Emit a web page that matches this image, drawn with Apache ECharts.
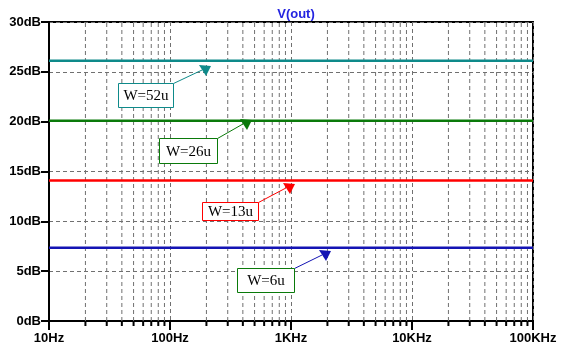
<!DOCTYPE html>
<html><head><meta charset="utf-8">
<script src="https://cdn.jsdelivr.net/npm/echarts@6/dist/echarts.min.js"></script>
<style>html,body{margin:0;padding:0;background:#fff}#c{width:566px;height:352px}</style>
</head><body><div id="c"></div>
<script>
// ---- data ----
const freqPoints = [10, 100, 1000, 10000, 100000];
const xTickLabels = ['10Hz', '100Hz', '1KHz', '10KHz', '100KHz'];
const yTicks = [0, 5, 10, 15, 20, 25, 30];
const seriesNames = ['W=52u', 'W=26u', 'W=13u', 'W=6u'];
const gainW52 = [26.1, 26.1, 26.1, 26.1, 26.1];
const gainW26 = [20.1, 20.1, 20.1, 20.1, 20.1];
const gainW13 = [14.1, 14.1, 14.1, 14.1, 14.1];
const gainW6 = [7.35, 7.35, 7.35, 7.35, 7.35];
const minorMultipliers = [2, 3, 4, 5, 6, 7, 8, 9];
const minorDecades = [10, 100, 1000, 10000];
// annotation anchors in data coords: [boxF1, boxDB1, boxF2, boxDB2, arrowF, arrowDB]
const annotW52 = [37.2, 23.88, 105.9, 21.47, 194.7, 25.28];
const annotW26 = [81.1, 18.36, 244.6, 15.85, 424.6, 19.87];
const annotW13 = [183.9, 11.94, 533.7, 10.13, 962.7, 13.45];
const annotW6 = [357.9, 5.32, 1058, 2.91, 1910, 6.72];

// ---- styles ----
const colors = ['#0e8a8a', '#0a7a0a', '#ff0000', '#1414b4'];
const boxBorders = ['#0e8a8a', '#0a7a0a', '#ff0000', '#0a7a0a'];
const gridColor = '#707070';

const minorFreqs = [];
minorDecades.forEach(d => minorMultipliers.forEach(m => minorFreqs.push(d * m)));
const gains = [gainW52, gainW26, gainW13, gainW6];
const annots = [annotW52, annotW26, annotW13, annotW6];

const chart = echarts.init(document.getElementById('c'), null, {renderer: 'canvas'});
const labelFont = {fontFamily: 'Liberation Sans, Arial', fontWeight: 'bold', fontSize: 13, color: '#000'};

const option = {
  animation: false,
  backgroundColor: '#fff',
  title: {
    text: 'V(out)', left: 291, top: 3, textAlign: 'center',
    textStyle: {fontFamily: 'Liberation Sans, Arial', fontWeight: 'bold', fontSize: 13, color: '#2424e0'}
  },
  grid: {left: 49, right: 33, top: 22, bottom: 31, show: true, borderColor: '#000', borderWidth: 2, backgroundColor: 'transparent'},
  xAxis: {
    type: 'log', logBase: 10, min: freqPoints[0], max: freqPoints[freqPoints.length - 1],
    axisLine: {show: true, lineStyle: {color: '#000', width: 2}},
    axisTick: {show: true, length: 9, lineStyle: {color: '#000', width: 2}},
    axisLabel: Object.assign({margin: 11, showMinLabel: true, showMaxLabel: true,
      formatter: v => { const i = freqPoints.findIndex(f => Math.abs(f - v) / f < 1e-6); return i >= 0 ? xTickLabels[i] : ''; }}, labelFont),
    splitLine: {show: true, lineStyle: {color: gridColor, type: [4, 3], width: 1}},
    minorTick: {show: false}
  },
  yAxis: {
    type: 'value', min: yTicks[0], max: yTicks[yTicks.length - 1], interval: 5,
    axisLine: {show: true, lineStyle: {color: '#000', width: 2}},
    axisTick: {show: true, length: 8, lineStyle: {color: '#000', width: 2}},
    axisLabel: Object.assign({margin: 8, formatter: v => v + 'dB'}, labelFont),
    splitLine: {show: true, lineStyle: {color: gridColor, type: [4, 3], width: 1}}
  },
  series: [
    {
      type: 'custom', name: 'minorGrid', clip: false, silent: true, z: 1,
      data: minorFreqs.map(f => [f, 0]),
      renderItem: (params, api) => {
        const f = api.value(0);
        const pb = api.coord([f, yTicks[0]]);
        const pt = api.coord([f, yTicks[yTicks.length - 1]]);
        return {type: 'group', children: [
          {type: 'line', shape: {x1: pb[0], y1: pb[1], x2: pt[0], y2: pt[1]},
           style: {stroke: gridColor, lineWidth: 1, lineDash: [4, 3]}},
          {type: 'line', shape: {x1: pb[0], y1: pb[1], x2: pb[0], y2: pb[1] + 5},
           style: {stroke: '#000', lineWidth: 2}}
        ]};
      }
    }
  ].concat(gains.map((g, i) => ({
    type: 'line', name: seriesNames[i], showSymbol: false, z: 3,
    data: freqPoints.map((f, j) => [f, g[j]]),
    lineStyle: {color: colors[i], width: 2.5}
  }))).concat([{
    type: 'custom', name: 'annotations', clip: false, silent: true, z: 5,
    data: annots.map((a, i) => a.concat([i])),
    renderItem: (params, api) => {
      const i = api.value(6);
      const p1 = api.coord([api.value(0), api.value(1)]);
      const p2 = api.coord([api.value(2), api.value(3)]);
      const pa = api.coord([api.value(4), api.value(5)]);
      const x1 = Math.round(p1[0]) + 0.5, y1 = Math.round(p1[1]) + 0.5;
      const x2 = Math.round(p2[0]) + 0.5, y2 = Math.round(p2[1]) + 0.5;
      const ax = pa[0], ay = pa[1];
      return {type: 'group', children: [
        {type: 'line', shape: {x1: x2, y1: y1, x2: ax - 3, y2: ay + 1},
         style: {stroke: colors[i], lineWidth: 1}},
        {type: 'polygon', shape: {points: [[ax - 6, ay - 4], [ax + 6, ay - 3], [ax + 1, ay + 7]]},
         style: {fill: colors[i]}},
        {type: 'rect', shape: {x: x1, y: y1, width: x2 - x1, height: y2 - y1},
         style: {fill: '#fff', stroke: boxBorders[i], lineWidth: 1}},
        {type: 'text', style: {text: seriesNames[i], x: (x1 + x2) / 2, y: (y1 + y2) / 2 + 1,
          align: 'center', verticalAlign: 'middle', fill: '#000',
          font: '15px "Liberation Serif", "Times New Roman", serif'}}
      ]};
    }
  }])
};
chart.setOption(option);
</script>
</body></html>
